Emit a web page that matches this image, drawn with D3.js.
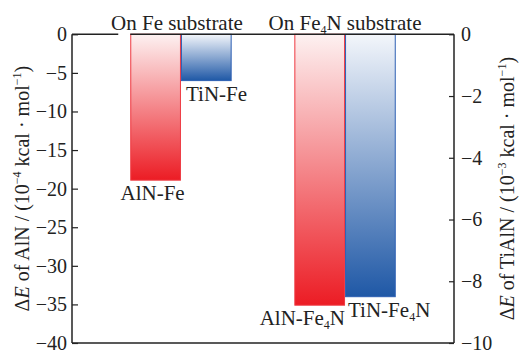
<!DOCTYPE html>
<html>
<head>
<meta charset="utf-8">
<script src="https://cdn.jsdelivr.net/npm/d3@7"></script>
<style>
  body { margin: 0; background: #fff; }
  svg text { font-family: "Liberation Serif", "Times New Roman", serif; fill: #222; }
</style>
</head>
<body>
<div id="chart"></div>
<script>
// data
var substrates = ["Fe", "Fe4N"];
var phases = ["AlN", "TiN"];
// AlN on left axis (10^-4 kcal/mol), TiN on right axis (10^-3 kcal/mol)
var alnValues = [-18.9, -35.1];
var tinValues = [-1.5, -8.5];
var barLabels = ["AlN-Fe", "TiN-Fe", "AlN-Fe4N", "TiN-Fe4N"];
var leftTicks = [0, -5, -10, -15, -20, -25, -30, -35, -40];
var rightTicks = [0, -2, -4, -6, -8, -10];

var serif = "'Liberation Serif', serif";
var width = 519, height = 351;
var margin = { top: 34.3, right: 65, bottom: 8, left: 72 };
var w = width - margin.left - margin.right,
    h = height - margin.top - margin.bottom;

var svg = d3.select("#chart").append("svg")
    .attr("width", width)
    .attr("height", height)
    .attr("font-family", serif);

var defs = svg.append("defs");
function addGrad(id, c0, c1) {
    var g = defs.append("linearGradient")
        .attr("id", id)
        .attr("x1", "0%").attr("x2", "0%")
        .attr("y1", "0%").attr("y2", "100%");
    g.append("stop").attr("offset", "0%").style("stop-color", c0);
    g.append("stop").attr("offset", "100%").style("stop-color", c1);
}
addGrad("gradRed", "#fdf1f1", "#ec1c24");
addGrad("gradBlue", "#f3f6fb", "#1f58a6");

var g = svg.append("g")
    .attr("transform", "translate(" + margin.left + "," + margin.top + ")");

var yLeft = d3.scaleLinear().domain([0, -40]).range([0, h]);
var yRight = d3.scaleLinear().domain([0, -10]).range([0, h]);

var x0 = d3.scaleBand().domain(substrates).range([0, w])
    .paddingInner(0.382).paddingOuter(0.355);
var x1 = d3.scaleBand().domain(phases).range([0, x0.bandwidth()]);

var bars = [];
substrates.forEach(function (s, i) {
    bars.push({ sub: s, phase: "AlN", value: alnValues[i], y: yLeft, fill: "url(#gradRed)", stroke: "#ee3a42" });
    bars.push({ sub: s, phase: "TiN", value: tinValues[i], y: yRight, fill: "url(#gradBlue)", stroke: "#2c5fb3" });
});

g.selectAll("rect.bar")
    .data(bars)
    .enter().append("rect")
    .attr("class", "bar")
    .attr("x", function (d) { return x0(d.sub) + x1(d.phase) + 0.5; })
    .attr("width", x1.bandwidth() - 1)
    .attr("y", function (d) { return d.y(0); })
    .attr("height", function (d) { return d.y(d.value) - d.y(0); })
    .attr("fill", function (d) { return d.fill; })
    .attr("stroke", function (d) { return d.stroke; })
    .attr("stroke-width", 1);

// frame
var frame = g.append("g").attr("stroke", "#222").attr("stroke-width", 1.5).attr("fill", "none");
frame.append("line").attr("x1", 0).attr("x2", 0).attr("y1", 0).attr("y2", h);
frame.append("line").attr("x1", w).attr("x2", w).attr("y1", 0).attr("y2", h);
frame.append("line").attr("x1", 0).attr("x2", w).attr("y1", h).attr("y2", h);
frame.append("line").attr("x1", 0).attr("x2", x0("Fe") + x1("AlN") - 12).attr("y1", 0).attr("y2", 0);
frame.append("line").attr("x1", x0("Fe") + x1("AlN")).attr("x2", w).attr("y1", 0).attr("y2", 0);

// axes
var leftAxis = d3.axisLeft(yLeft).tickValues(leftTicks).tickSizeInner(-6).tickSizeOuter(0).tickPadding(5);
var la = g.append("g").call(leftAxis).attr("font-family", serif).attr("font-size", 20);
la.select(".domain").remove();
la.selectAll("line").attr("stroke", "#222").attr("stroke-width", 1.2);
la.selectAll("text").attr("fill", "#222");

var rightAxis = d3.axisRight(yRight).tickValues(rightTicks).tickSizeInner(-5).tickSizeOuter(0).tickPadding(7);
var ra = g.append("g").attr("transform", "translate(" + w + ",0)").call(rightAxis)
    .attr("font-family", serif).attr("font-size", 20);
ra.select(".domain").remove();
ra.selectAll("line").attr("stroke", "#222").attr("stroke-width", 1.2);
ra.selectAll("text").attr("fill", "#222");

// substrate titles
function sub4(t, pre, post) {
    t.append("tspan").text(pre);
    t.append("tspan").text("4").style("font-size", "12px").attr("dy", 4);
    t.append("tspan").text(post).attr("dy", -4);
}
g.append("text").attr("x", x0("Fe") + x0.bandwidth() / 2 - 4).attr("y", -4)
    .attr("text-anchor", "middle").style("font-size", "21px").text("On Fe substrate");
var t2 = g.append("text").attr("x", x0("Fe4N") + x0.bandwidth() / 2).attr("y", -4)
    .attr("text-anchor", "middle").style("font-size", "21px");
sub4(t2, "On Fe", "N substrate");

// bar labels
var anchors = ["middle", "start", "end", "start"];
var dxs = [-3, 5, 0, 3];
bars.forEach(function (d, i) {
    var bx = x0(d.sub) + x1(d.phase);
    var ax = anchors[i] === "middle" ? bx + x1.bandwidth() / 2 : anchors[i] === "start" ? bx : bx + x1.bandwidth();
    var t = g.append("text")
        .attr("x", ax + dxs[i])
        .attr("y", d.y(d.value) + 20)
        .attr("text-anchor", anchors[i])
        .style("font-size", "21px");
    var lab = barLabels[i];
    if (lab.indexOf("Fe4N") >= 0) {
        sub4(t, lab.replace("4N", ""), "N");
    } else {
        t.text(lab);
    }
});

// axis titles
function axisTitle(x, name, exp) {
    var t = svg.append("text")
        .attr("transform", "translate(" + x + "," + (margin.top + h / 2) + ") rotate(-90)")
        .attr("text-anchor", "middle")
        .style("font-size", "20px");
    t.append("tspan").text("Δ");
    t.append("tspan").text("E").style("font-style", "italic");
    t.append("tspan").text(" of " + name + " / (10");
    t.append("tspan").text(exp).style("font-size", "12px").attr("dy", -8);
    t.append("tspan").text(" kcal · mol").attr("dy", 8);
    t.append("tspan").text("−1").style("font-size", "12px").attr("dy", -8);
    t.append("tspan").text(")").attr("dy", 8);
}
axisTitle(29, "AlN", "−4");
axisTitle(514, "TiAlN", "−3");
</script>
</body>
</html>
